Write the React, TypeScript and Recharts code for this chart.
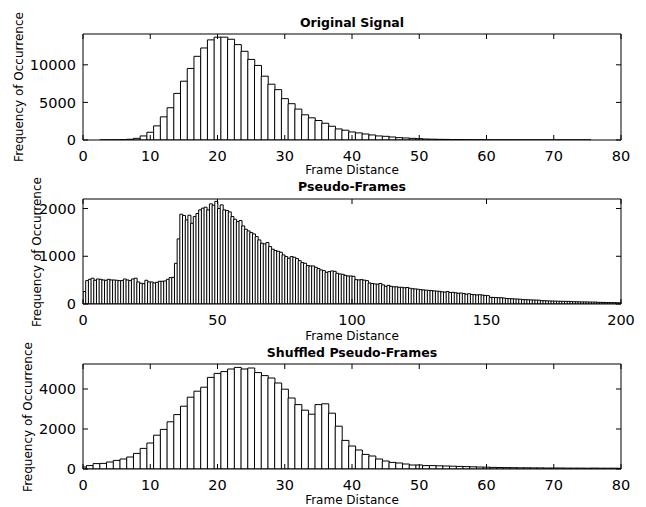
import React from 'react';
import { BarChart, Bar, XAxis, YAxis } from 'recharts';

const FONT = '"DejaVu Sans", sans-serif';

// Original Signal: counts for frame distance 0..80
const signalCounts = [
  0, 0, 0, 5, 10, 20, 50, 100, 220, 540,
  1030, 1880, 3080, 4290, 6200, 7820, 9520, 11130, 12240, 13320,
  13680, 13680, 13400, 12690, 11800, 10720, 9920, 8490, 7420, 6700,
  5500, 4830, 4110, 3350, 2950, 2590, 2230, 1830, 1470, 1300,
  1070, 940, 800, 670, 540, 490, 400, 310, 270, 220,
  180, 130, 110, 90, 80, 60, 50, 40, 30, 25,
  20, 15, 12, 10, 8, 6, 5, 4, 3, 3,
  2, 2, 1, 1, 1, 1, 0, 0, 0, 0, 0,
];

// Pseudo-Frames: counts for bins 0..199
const pseudoCounts = [
  260, 490, 517, 540, 497, 524, 517, 503, 497, 517,
  503, 503, 497, 490, 490, 524, 503, 490, 524, 540,
  462, 434, 427, 497, 462, 462, 441, 455, 476, 476,
  483, 517, 552, 559, 853, 1364, 1881, 1853, 1762, 1860,
  1692, 1832, 1895, 1972, 2007, 2028, 1972, 2098, 2070, 2150,
  2000, 2077, 1972, 1958, 1930, 1832, 1776, 1727, 1748, 1636,
  1566, 1531, 1496, 1468, 1412, 1343, 1273, 1259, 1287, 1203,
  1147, 1119, 1105, 1084, 1028, 993, 958, 993, 979, 951,
  909, 867, 853, 804, 797, 797, 769, 741, 713, 699,
  664, 678, 692, 685, 643, 629, 622, 601, 587, 587,
  580, 510, 505, 510, 500, 490, 440, 430, 420, 415,
  430, 400, 370, 390, 370, 360, 360, 350, 350, 340,
  345, 330, 320, 315, 310, 300, 295, 290, 285, 280,
  275, 270, 265, 255, 250, 260, 240, 245, 235, 225,
  230, 220, 205, 215, 200, 195, 190, 195, 185, 180,
  175, 140, 138, 135, 132, 130, 125, 115, 112, 110,
  106, 104, 100, 92, 90, 88, 86, 84, 82, 80,
  70, 68, 66, 64, 62, 60, 58, 57, 56, 55,
  55, 50, 48, 46, 45, 44, 43, 42, 41, 40,
  40, 35, 34, 33, 32, 30, 29, 28, 27, 25,
];

// Shuffled Pseudo-Frames: counts for frame distance 0..80
const shuffledCounts = [
  100, 170, 270, 280, 350, 430, 500, 600, 780, 1030,
  1300, 1690, 1980, 2360, 2720, 3140, 3590, 3890, 4090, 4580,
  4780, 4870, 5000, 5080, 5000, 5050, 4820, 4670, 4550, 4300,
  3990, 3550, 3220, 2940, 2740, 3220, 3260, 2790, 2140, 1430,
  1150, 950, 730, 650, 500, 400, 330, 300, 250, 200,
  200, 170, 170, 160, 150, 140, 130, 120, 110, 100,
  90, 80, 75, 70, 65, 60, 60, 55, 55, 50,
  50, 50, 45, 45, 45, 40, 45, 40, 40, 40, 35,
];

const signalDistances = signalCounts.map((_, i) => i);
const pseudoBinCenters = pseudoCounts.map((_, i) => i + 0.5);
const shuffledDistances = shuffledCounts.map((_, i) => i);

const distanceTicks = [0, 10, 20, 30, 40, 50, 60, 70, 80];
const pseudoTicks = [0, 50, 100, 150, 200];
const signalYTicks = [0, 5000, 10000];
const pseudoYTicks = [0, 1000, 2000];
const shuffledYTicks = [0, 2000, 4000];

const titles = ['Original Signal', 'Pseudo-Frames', 'Shuffled Pseudo-Frames'];
const xLabel = 'Frame Distance';
const yLabel = 'Frequency of Occurrence';

const NoLabel = () => <g />;

const tickFont = { fill: '#000', fontSize: 14.5, fontFamily: FONT };

type PanelProps = {
  rows: { x: number; count: number }[];
  xMax: number;
  xTicks: number[];
  yMax: number;
  yTicks: number[];
  top: number;
  plotH: number;
  title: string;
  titleY: number;
  xLabelY: number;
  yLabelX: number;
};

const H = 165;
const THIN = 0.01;

function Txt({ x, y, children, bold }: { x: number; y: number; children: React.ReactNode; bold?: boolean }) {
  return (
    <div
      style={{
        position: 'absolute',
        left: x,
        top: y,
        transform: 'translate(-50%, -50%)',
        fontFamily: FONT,
        fontSize: bold ? 12.5 : 12,
        fontWeight: bold ? 'bold' : 'normal',
        whiteSpace: 'nowrap',
        lineHeight: 1,
        color: '#000',
      }}
    >
      {children}
    </div>
  );
}

function VTxt({ x, y, children }: { x: number; y: number; children: React.ReactNode }) {
  return (
    <div
      style={{
        position: 'absolute',
        left: x,
        top: y,
        transform: 'translate(-50%, -50%) rotate(-90deg)',
        fontFamily: FONT,
        fontSize: 12,
        whiteSpace: 'nowrap',
        lineHeight: 1,
        color: '#000',
      }}
    >
      {children}
    </div>
  );
}

function Panel(p: PanelProps) {
  const xDomain: [number, number] = [0, p.xMax];
  const yDomain: [number, number] = [0, p.yMax];
  return (
    <>
      <div style={{ position: 'absolute', left: 0, top: p.top, width: 646, height: H }}>
        <BarChart
          width={646}
          height={H}
          data={p.rows}
          margin={{ top: 34, right: 25, bottom: 0, left: 0 }}
          barCategoryGap={0}
          barGap={0}
        >
          <XAxis
            xAxisId="b"
            dataKey="x"
            type="number"
            domain={xDomain}
            ticks={p.xTicks}
            interval={0}
            allowDataOverflow
            height={H - 34 - p.plotH}
            stroke="#000"
            tickLine={false}
            tickSize={0}
            tickMargin={11}
            tick={tickFont}
          />
          <XAxis
            xAxisId="bm"
            dataKey="x"
            type="number"
            domain={xDomain}
            ticks={p.xTicks}
            interval={0}
            allowDataOverflow
            orientation="bottom"
            mirror
            height={THIN}
            stroke="#000"
            axisLine={false}
            tickSize={5}
            tick={NoLabel}
          />
          <XAxis
            xAxisId="t"
            dataKey="x"
            type="number"
            domain={xDomain}
            ticks={p.xTicks}
            interval={0}
            allowDataOverflow
            orientation="top"
            mirror
            height={THIN}
            stroke="#000"
            tickSize={5}
            tick={NoLabel}
          />
          <YAxis
            yAxisId="l"
            type="number"
            domain={yDomain}
            ticks={p.yTicks}
            interval={0}
            allowDataOverflow
            width={83}
            stroke="#000"
            tickLine={false}
            tickSize={0}
            tickMargin={7}
            tick={tickFont}
          />
          <YAxis
            yAxisId="lm"
            type="number"
            domain={yDomain}
            ticks={p.yTicks}
            interval={0}
            allowDataOverflow
            mirror
            width={THIN}
            stroke="#000"
            axisLine={false}
            tickSize={5}
            tick={NoLabel}
          />
          <YAxis
            yAxisId="r"
            type="number"
            domain={yDomain}
            ticks={p.yTicks}
            interval={0}
            allowDataOverflow
            orientation="right"
            mirror
            width={THIN}
            stroke="#000"
            tickSize={5}
            tick={NoLabel}
          />
          <Bar
            xAxisId="b"
            yAxisId="l"
            dataKey="count"
            fill="#fff"
            stroke="#000"
            strokeWidth={1}
            isAnimationActive={false}
          />
        </BarChart>
      </div>
      <Txt x={352} y={p.titleY} bold>{p.title}</Txt>
      <Txt x={352} y={p.xLabelY}>{xLabel}</Txt>
      <VTxt x={p.yLabelX} y={p.top + 34 + p.plotH / 2}>{yLabel}</VTxt>
    </>
  );
}

export default function App() {
  const signalRows = signalDistances.map((x, i) => ({ x, count: signalCounts[i] }));
  const pseudoRows = pseudoBinCenters.map((x, i) => ({ x, count: pseudoCounts[i] }));
  const shuffledRows = shuffledDistances.map((x, i) => ({ x, count: shuffledCounts[i] }));
  return (
    <div style={{ position: 'absolute', left: 0, top: 0, width: 646, height: 507, background: '#fff' }}>
      <Panel rows={signalRows} xMax={80} xTicks={distanceTicks} yMax={14100} yTicks={signalYTicks}
        top={0} plotH={106} title={titles[0]} titleY={23} xLabelY={170} yLabelX={19} />
      <Panel rows={pseudoRows} xMax={200} xTicks={pseudoTicks} yMax={2200} yTicks={pseudoYTicks}
        top={165} plotH={105} title={titles[1]} titleY={187} xLabelY={336} yLabelX={37} />
      <Panel rows={shuffledRows} xMax={80} xTicks={distanceTicks} yMax={5250} yTicks={shuffledYTicks}
        top={330} plotH={105} title={titles[2]} titleY={353} xLabelY={500} yLabelX={28} />
    </div>
  );
}
